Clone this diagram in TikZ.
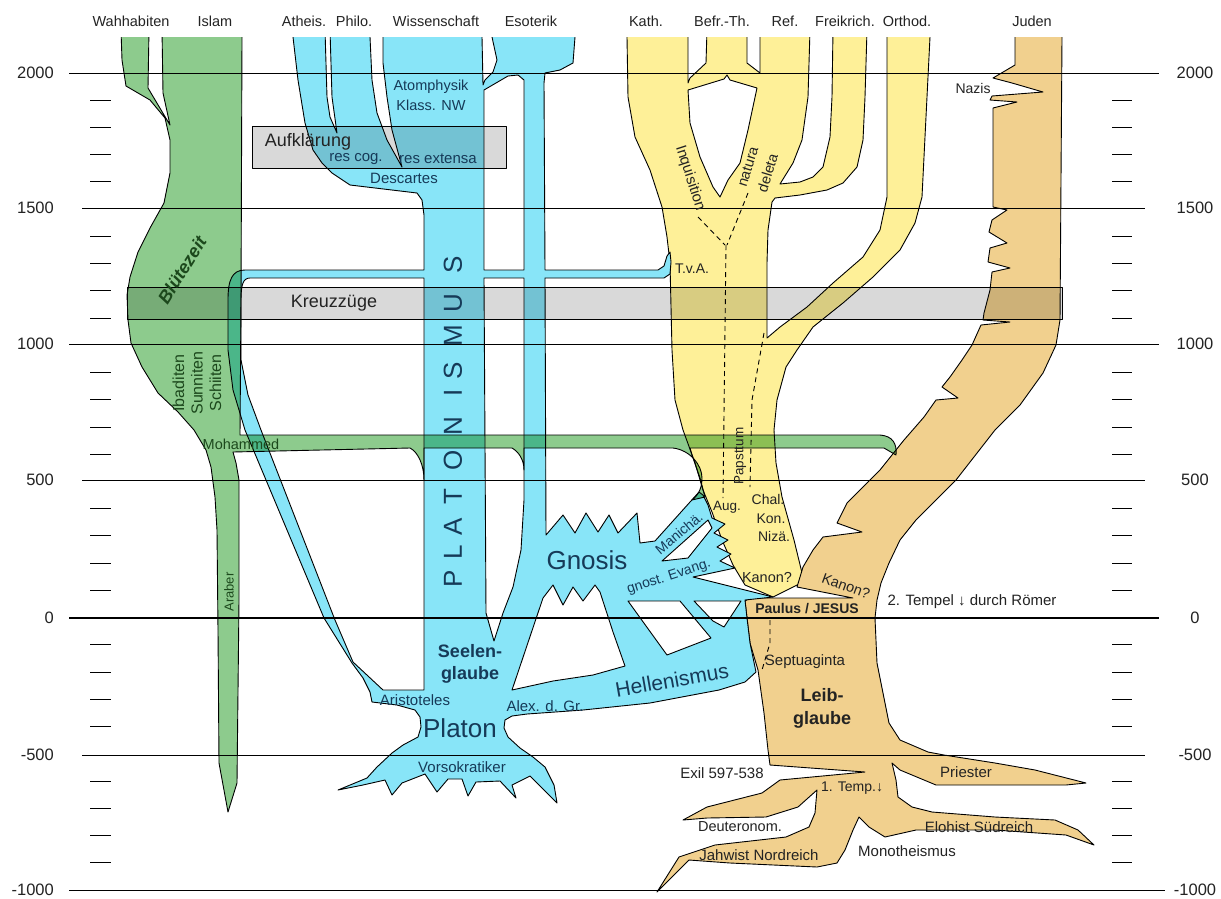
\documentclass[tikz,border=0pt]{standalone}
\usepackage{fontspec}
\setmainfont{Liberation Sans}
\definecolor{cblue}{RGB}{136,229,248}
\definecolor{cgreen}{RGB}{141,203,141}
\definecolor{cyellow}{RGB}{254,240,152}
\definecolor{ctan}{RGB}{241,208,142}
\definecolor{cgray}{RGB}{217,217,217}
\definecolor{tblue}{RGB}{22,58,88}
\definecolor{tgreen}{RGB}{28,72,28}
\definecolor{tdark}{RGB}{35,35,35}
\newcommand{\fsz}[2]{\fontsize{#1}{#2}\selectfont}
\begin{document}
\begin{tikzpicture}[x=1pt,y=-1pt,
  colshape/.style={draw=black,line width=0.9pt,line join=round},
  holefill/.style={colshape,fill=white},
  dashline/.style={draw=black,line width=0.9pt,dash pattern=on 5pt off 4pt},
  lbl/.style={inner sep=0pt,text=tdark,font=\fsz{15}{18}},
  blbl/.style={lbl,text=tblue},
  glbl/.style={lbl,text=tgreen},
  hdr/.style={lbl,font=\fsz{14.5}{17}},
  axl/.style={lbl,font=\fsz{16.5}{18}},
  hline/.style={draw=black,line width=1pt}]
\useasboundingbox (0,0) rectangle (1221,898);
\fill[white] (0,0) rectangle (1221,898);

\begin{scope}
\clip (0,37) rectangle (1221,898);
% ---------------- yellow (christian) ----------------
\path[colshape,fill=cyellow,even odd rule]
 (627,30) -- (627,37) -- (628,97) -- (635,137) -- (650,170) -- (662,207) -- (667,237) -- (670,263) -- (672,350)
 -- (675,400) -- (683,430) -- (695,463) -- (703,490) -- (712,512) -- (722,540) -- (733,565) -- (745,585) -- (773,597)
 -- (799,584) -- (803,577) -- (794,540) -- (782,497) -- (776,463) -- (774,430) -- (777,400) -- (786,367) -- (797,350)
 -- (813,327) -- (843,303) -- (873,277) -- (900,250) -- (915,223) -- (922,197) -- (930,37) -- (930,30)
 -- (887,30) -- (887,197) -- (880,230) -- (863,257) -- (833,283) -- (807,307) -- (780,327) -- (767,338)
 -- (767,263) -- (768,230) -- (772,202) -- (775,198) -- (800,195) -- (827,190) -- (843,183) -- (857,167) -- (863,140) -- (865,97) -- (867,30)
 -- (833,30) -- (832,97) -- (830,137) -- (823,167) -- (813,177) -- (800,182) -- (780,184)
 -- (793,163) -- (802,140) -- (808,97) -- (810,30)
 -- (760,30) -- (760,73) -- (747,63) -- (747,30) -- (707,30) -- (706,63) -- (690,78) -- (688,83) -- (688,30) -- cycle
 (688,90) -- (690,123) -- (700,157) -- (713,187) -- (720,197) -- (728,180) -- (740,163) -- (748,130) -- (757,88)
 -- (730,80) -- (727,75) -- (724,79) -- cycle;

% ---------------- tan (jewish) ----------------
\path[colshape,fill=ctan]
 (1015,30) -- (1015,65) -- (993,78) -- (1012,83) -- (1043,92) -- (992,96) -- (990,100) -- (1017,102) -- (993,108)
 -- (993,207) -- (1007,210) -- (992,220) -- (989,232) -- (1007,243) -- (990,248) -- (988,262) -- (1010,268) -- (992,272)
 -- (990,290) -- (984,313) -- (983,320) -- (1010,322) -- (981,325) -- (972,345) -- (962,360) -- (950,377) -- (942,387)
 -- (958,398) -- (936,400) -- (924,417) -- (904,440) -- (880,470) -- (847,503) -- (837,523) -- (862,532) -- (823,537)
 -- (813,550) -- (803,567) -- (797,587) -- (853,598) -- (797,598) -- (750,598) -- (745,601) -- (747,618) -- (750,643)
 -- (758,670) -- (764,713) -- (768,750) -- (770,765) -- (865,772) -- (780,780) -- (762,793) -- (707,807) -- (683,820)
 -- (707,818) -- (766,817) -- (798,807) -- (817,790) -- (815,813) -- (809,827) -- (786,837) -- (715,845) -- (679,857)
 -- (657,892) -- (689,860) -- (730,863) -- (817,867) -- (837,863) -- (845,850) -- (853,830) -- (859,817) -- (869,827)
 -- (885,837) -- (916,830) -- (995,830) -- (1066,835) -- (1094,845) -- (1078,830) -- (1055,820) -- (995,817) -- (932,812)
 -- (912,807) -- (898,797) -- (896,780) -- (892,763) -- (900,770) -- (936,785) -- (995,785) -- (1066,785) -- (1086,783)
 -- (1035,770) -- (995,763) -- (944,755) -- (928,752) -- (900,740) -- (889,723) -- (877,663) -- (875,618) -- (877,600)
 -- (881,583) -- (889,563) -- (900,540) -- (916,520) -- (956,480) -- (995,430) -- (1020,405) -- (1043,373) -- (1056,345)
 -- (1060,320) -- (1062,37) -- (1062,30) -- cycle;

% ---------------- blue (platonism) ----------------
\path[colshape,fill=cblue]
 (293,30) -- (293,37) -- (298,80) -- (305,123) -- (313,150) -- (322,163) -- (332,173) -- (350,185) -- (417,193)
 -- (422,200) -- (424,215) -- (424,270) -- (245,270) .. controls (232,270) and (228,280) .. (228,300)
 -- (228,350) -- (233,390) -- (245,430) -- (324,618) -- (352,663) -- (363,678) -- (370,692) -- (372,702) -- (397,705)
 -- (415,710) -- (420,717) -- (421,727) -- (418,737) -- (403,745) -- (392,753) -- (377,767) -- (367,778) -- (338,790)
 -- (363,785) -- (385,780) -- (392,795) -- (402,783) -- (425,774) -- (437,792) -- (448,779) -- (462,779) -- (468,796)
 -- (476,782) -- (500,781) -- (516,798) -- (512,785) -- (530,776) -- (557,803) -- (554,785) -- (545,767) -- (533,757)
 -- (520,748) -- (508,737) -- (504,728) -- (505,720) -- (512,716) -- (527,714) -- (583,710) -- (650,703) -- (719,690)
 -- (745,682) -- (756,672) -- (750,643) -- (747,618) -- (745,600) -- (773,597) -- (693,577) -- (735,568) -- (720,561)
 -- (731,554) -- (717,547) -- (728,540) -- (714,533) -- (725,524) -- (712,518) -- (708,505) -- (703,495) -- (699,492)
 -- (655,541) -- (640,543) -- (637,513) -- (618,533) -- (609,515) -- (598,532) -- (586,513) -- (575,533) -- (563,515)
 -- (546,535) -- (545,278) -- (664,278) -- (670,274) -- (671,262) -- (670,252) -- (667,256) -- (664,266) -- (658,270)
 -- (545,270) -- (544,83) -- (545,73) -- (560,70) -- (573,63) -- (575,37) -- (575,30) -- (492,30) -- (492,37)
 -- (497,60) -- (493,72) -- (485,80) -- (483,85) -- (482,37) -- (482,30) -- (383,30) -- (383,63) -- (387,97)
 -- (392,130) -- (402,167) -- (387,140) -- (377,113) -- (372,80) -- (370,37) -- (370,30) -- (330,30) -- (332,97)
 -- (337,133) -- (330,117) -- (327,97) -- (325,30) -- cycle;
% holes
\path[holefill] (250,278) .. controls (243,278) and (241,285) .. (241,300) -- (241,360) -- (248,395) -- (261,430)
 -- (335,620) -- (353,662) -- (383,690) -- (424,690) -- (424,278) -- cycle;
\path[holefill] (484,90) -- (508,76) -- (518,75) -- (524,80) -- (524,270) -- (484,270) -- cycle;
\path[holefill] (484,278) -- (524,278) -- (524,500) -- (521,550) -- (513,587) -- (503,613) -- (494,641) -- (486,613) -- cycle;
\path[holefill] (543,598) -- (553,585) -- (563,605) -- (573,587) -- (583,601) -- (595,585) -- (600,592) -- (613,632)
 -- (625,666) -- (593,675) -- (553,681) -- (512,690) -- cycle;
\path[holefill] (628,601) -- (680,601) -- (711,638) -- (667,655) -- cycle;
\path[holefill] (694,601) -- (741,601) -- (724,627) -- (713,621) -- cycle;
\path[holefill] (662,561) -- (708,520) -- (712,528) -- (688,558) -- cycle;

% dashed lines
\draw[dashline] (698,217) -- (725,245);
\draw[dashline] (748,193) -- (727,245);
\draw[dashline] (726,245) -- (723,498);
\draw[dashline] (764,333) -- (752,400) -- (750,487);
\draw[dashline] (770,620) -- (770,643) -- (762,670);

% ---------------- green (islam) ----------------
\begin{scope}[blend mode=multiply]
\path[colshape,fill=cgreen]
 (121,30) -- (122,60) -- (126,86) -- (150,100) -- (165,118) -- (170,140) -- (170,173) -- (164,203) -- (150,228)
 -- (138,252) -- (130,277) -- (127,295) -- (128,320) -- (131,343) -- (142,367) -- (158,393) -- (178,412) -- (194,430)
 -- (206,450) -- (211,467) -- (215,497) -- (217,530) -- (218,630) -- (219,763) -- (228,812) -- (237,783) -- (239,600)
 -- (239,480) -- (236,463) -- (233,452) -- (410,448) .. controls (418,452) and (424,465) .. (424,480) -- (424,448)
 -- (512,448) .. controls (519,452) and (524,460) .. (524,470) -- (524,448)
 -- (673,448) .. controls (690,450) and (702,465) .. (702,478) .. controls (702,490) and (697,496) .. (692,500)
 -- (705,497) -- (700,478) -- (692,455) -- (690,448) -- (884,448) -- (896,455)
 .. controls (897,444) and (893,436) .. (880,435) -- (240,435) -- (241,300) -- (242,37) -- (242,30)
 -- (162,30) -- (163,93) -- (170,125) -- (148,88) -- (149,30) -- cycle;
% gray bands
\path[colshape,fill=cgray] (127,287) rectangle (1062,319);
\path[colshape,fill=cgray] (252,126) rectangle (506,168);
\end{scope}
\end{scope}

% ---------------- time axis ----------------
\foreach \yy/\xa/\xb in {73/69/1159, 208/82/1145, 344/69/1159, 480/82/1145, 755/82/1145, 890/69/1165}
  \draw[hline] (\xa,\yy) -- (\xb,\yy);
\draw[draw=black,line width=2.6pt] (69,618) -- (1159,618);
\foreach \yr in {1900,1800,1700,1600,1400,1300,1200,1100,900,800,700,600,400,300,200,100,-100,-200,-300,-400,-600,-700,-800,-900}{
  \pgfmathsetmacro{\yy}{73+(2000-\yr)*0.27233}
  \draw[hline] (90,\yy) -- (111,\yy);
  \draw[hline] (1112,\yy) -- (1132,\yy);
}
\foreach \yy/\t [count=\i] in {73/2000, 208/1500, 344/1000, 480/500, 618/0, 755/-500, 890/-1000}{
  \node[axl,anchor=east] (L\i) at (54,\yy) {\t};
  \node[axl] (R\i) at (1195,\yy) {\t};
}

% ---------------- headers ----------------
\node[hdr] (h1) at (131,21) {Wahhabiten};
\node[hdr] (h2) at (215,21) {Islam};
\node[hdr] (h3) at (304,21) {Atheis.};
\node[hdr] (h4) at (354,21) {Philo.};
\node[hdr] (h5) at (436,21) {Wissenschaft};
\node[hdr] (h6) at (531,21) {Esoterik};
\node[hdr] (h7) at (646,21) {Kath.};
\node[hdr] (h8) at (722,21) {Befr.-Th.};
\node[hdr] (h9) at (785,21) {Ref.};
\node[hdr] (h10) at (845,21) {Freikrich.};
\node[hdr] (h11) at (907,21) {Orthod.};
\node[hdr] (h12) at (1032,21) {Juden};

% ---------------- labels ----------------
\node[lbl,font=\fsz{18}{20}] (kreuz) at (334,303) {Kreuzzüge};
\node[lbl,font=\fsz{18}{20}] (aufkl) at (308,142) {Aufklärung};
\node[blbl,font=\fsz{14.5}{20},align=center] (atom) at (431,95) {Atomphysik\\Klass. NW};
\node[blbl] (rescog) at (356,159) {res cog.};
\node[blbl] (resext) at (438,159) {res extensa};
\node[blbl] (desc) at (404,178) {Descartes};
\node[glbl,font=\fsz{18}{20}\bfseries\itshape,rotate=58] (bluete) at (182,270) {Blütezeit};
\node[glbl,font=\fsz{16}{18.5},align=center,rotate=90] (sekten) at (197,383) {Ibaditen\\Sunniten\\Schiiten};
\node[glbl,font=\fsz{14.5}{16}] (moh) at (241,444) {Mohammed};
\node[glbl,font=\fsz{13}{15},rotate=90] (arab) at (229,592) {Araber};
\foreach \ch/\yy [count=\i] in {P/579,L/552,A/527,T/497,O/460,N/426,I/393,S/371,M/336,U/303,S/265}
  \node[blbl,font=\fsz{26}{28},rotate=90] (pl\i) at (453,\yy) {\ch};
\node[blbl,font=\fsz{18}{22}\bfseries,align=center] (seele) at (470,664) {Seelen-\\glaube};
\node[blbl] (arist) at (415,700) {Aristoteles};
\node[blbl,font=\fsz{26}{28}] (platon) at (460,728) {Platon};
\node[blbl] (vors) at (462,767) {Vorsokratiker};
\node[blbl] (alex) at (545,706) {Alex. d. Gr.};
\node[blbl,font=\fsz{26}{28}] (gnosis) at (587,560) {Gnosis};
\node[blbl,font=\fsz{21}{24},rotate=10] (hell) at (672,680) {Hellenismus};
\node[blbl,font=\fsz{14}{16},rotate=40] (mani) at (679,533) {Manichä.};
\node[blbl,font=\fsz{14}{16},rotate=18] (gnev) at (669,577) {gnost. Evang.};
\node[lbl,font=\fsz{14}{16}] (tva) at (692,269) {T.v.A.};
\node[lbl,rotate=-72] (inq) at (690,178) {Inquisition};
\node[lbl,font=\fsz{14.5}{21},align=center,rotate=73] (natura) at (758,170) {natura\\deleta};
\node[lbl,font=\fsz{13.5}{15},rotate=90] (paps) at (740,456) {Papsttum};
\node[lbl,font=\fsz{13.5}{15}] (aug) at (727,507) {Aug.};
\node[lbl,font=\fsz{14}{18.5},align=center] (konz) at (768,518) {Chal.\\\hspace*{6pt}Kon.\\\hspace*{12pt}Nizä.};
\node[lbl,font=\fsz{14.5}{16}] (kan1) at (767,577) {Kanon?};
\node[lbl,font=\fsz{14.5}{16},rotate=-20] (kan2) at (846,586) {Kanon?};
\node[lbl,font=\fsz{14}{16}\bfseries] (paulus) at (807,609) {Paulus / JESUS};
\node[lbl] (tempel2) at (972,602) {2. Tempel ↓ durch Römer};
\node[lbl] (septu) at (805,662) {Septuaginta};
\node[lbl,font=\fsz{18}{23}\bfseries,align=center] (leib) at (822,708) {Leib-\\glaube};
\node[lbl] (exil) at (722,773) {Exil 597-538};
\node[lbl] (priest) at (966,772) {Priester};
\node[lbl,font=\fsz{14}{16}] (temp1) at (852,788) {1. Temp.↓};
\node[lbl,font=\fsz{14.5}{16}] (deut) at (740,827) {Deuteronom.};
\node[lbl] (eloh) at (979,827) {Elohist Südreich};
\node[lbl] (jahw) at (759,855) {Jahwist Nordreich};
\node[lbl] (mono) at (907,851) {Monotheismus};
\node[lbl,font=\fsz{14}{16}] (nazis) at (973,88) {Nazis};
\end{tikzpicture}
\end{document}
